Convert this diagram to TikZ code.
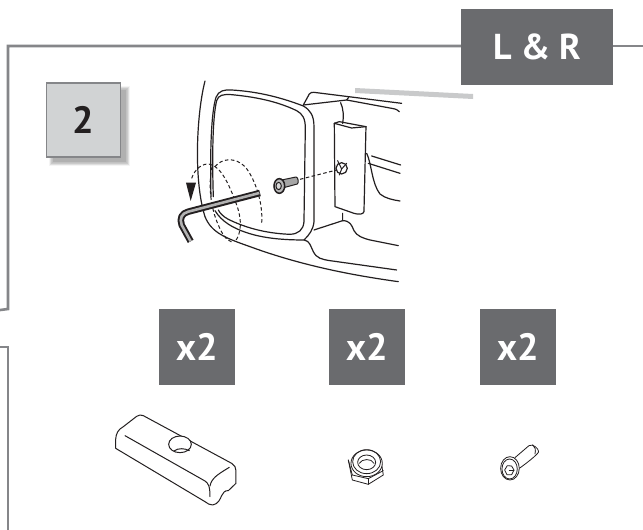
\documentclass[tikz,border=0pt]{standalone}
\usepackage{fontspec}
\setmainfont{PT Sans}
\definecolor{framegray}{HTML}{858689}
\definecolor{tagdark}{HTML}{6A6B6E}
\definecolor{stepfill}{HTML}{D1D3D4}
\definecolor{barlight}{HTML}{C9CACB}
\definecolor{inkdark}{HTML}{231F20}
\tikzset{
 framebar/.style={draw=framegray,line width=2.6pt,line join=miter},
 tagbox/.style={fill=tagdark,text=white,font=\bfseries\fontsize{38}{40}\selectfont,inner sep=0pt,anchor=center,minimum width=76pt,minimum height=76pt},
 ink/.style={draw=inkdark,line width=1.2pt,line cap=round,line join=round},
 thin ink/.style={draw=inkdark,line width=1pt,line cap=round,line join=round},
 fine ink/.style={draw=inkdark,line width=.8pt,line cap=round,line join=round},
 dash ink/.style={draw=inkdark,line width=1pt,dash pattern=on 3.5pt off 2.5pt},
 zoomA/.style={shift={(150,70)},x=0.3333pt,y=-0.3333pt},
 zoomB/.style={shift={(100,400)},x=0.3333pt,y=-0.3333pt},
}
\begin{document}
\begin{tikzpicture}[x=1pt,y=-1pt]
\useasboundingbox (0,0) rectangle (643,530);
\fill[white] (0,0) rectangle (643,530);
% frames
\draw[framebar] (0,310) -- (8,309) -- (8,46) -- (462,46);
\draw[framebar] (610,46) -- (643,46);
\draw[framebar] (0,347) -- (8,347) -- (8,530);
% L&R tag
\node[tagbox,minimum width=152pt,font=\bfseries\fontsize{36}{38}\selectfont] (lr) at (537,47) {L \& R};
% step box with soft shadow
\foreach \d in {0,1,...,7}{
 \fill[black,opacity=.045] ({46+3+\d*.6},{83+3+\d*.6}) rectangle ({121+9-\d*.6},{157+9-\d*.6});
}
\node[fill=stepfill,draw=framegray,line width=1.4pt,minimum width=74pt,minimum height=74pt,inner sep=0pt,text=inkdark,font=\bfseries\fontsize{38}{40}\selectfont] (stepno) at (83.5,120) {2};
% gray bar
\fill[barlight] (355,88) -- (473,94) -- (473,99) -- (355,93) -- cycle;
% count tags
\node[tagbox] (qa) at (197,347) {x2};
\node[tagbox] (qb) at (367,347) {x2};
\node[tagbox] (qc) at (518,347) {x2};
% mirror assembly
\begin{scope}[zoomA]
 \draw[ink] (165,33) .. controls (140,130) and (130,330) .. (165,440)
   .. controls (185,490) and (230,505) .. (300,530) .. controls (450,585) and (600,615) .. (745,635);
 \draw[ink] (183,380) .. controls (180,250) and (183,130) .. (198,82)
   .. controls (205,62) and (225,58) .. (245,60) .. controls (330,65) and (400,85) .. (460,108)
   .. controls (480,120) and (492,135) .. (492,170) -- (492,455)
   .. controls (490,478) and (478,495) .. (462,510);
 \draw[ink] (190,380) .. controls (186,260) and (188,140) .. (200,92)
   .. controls (205,75) and (220,72) .. (245,74) .. controls (330,82) and (390,98) .. (440,122)
   .. controls (458,132) and (466,145) .. (466,175) -- (462,455)
   .. controls (460,480) and (445,492) .. (420,493) .. controls (340,490) and (280,470) .. (235,448)
   .. controls (220,440) and (210,430) .. (205,420);
 \draw[ink] (195,422) .. controls (215,455) and (250,475) .. (290,488)
   .. controls (340,505) and (400,510) .. (462,510) .. controls (480,512) and (482,530) .. (490,545)
   .. controls (500,565) and (515,568) .. (540,572) -- (740,600);
 \draw[ink] (460,105) -- (478,72) .. controls (482,67) and (486,67) .. (492,67) -- (755,100);
 \draw[ink] (460,105) -- (590,90) -- (725,115) .. controls (738,117) and (744,120) .. (748,125);
 \draw[ink] (596,82) -- (590,90);
 \draw[ink] (572,98) .. controls (580,115) and (582,140) .. (578,160);
 \draw[ink] (553,160) -- (555,410) -- (612,430) .. controls (625,434) and (640,434) .. (642,425) -- (648,170);
 \draw[ink] (553,160) -- (568,155) -- (648,170);
 \draw[ink] (553,160) -- (605,174) -- (648,170);
 \draw[ink] (575,295) circle[radius=17];
 \draw[thin ink] (575,297) -- (563,272) (575,297) -- (590,280) (575,297) -- (568,315);
 \draw[ink] (650,250) .. controls (665,280) and (665,340) .. (690,372) .. controls (705,385) and (730,390) .. (750,393);
 \draw[ink] (665,258) -- (752,285);
 \draw[ink] (655,280) -- (750,310);
 \draw[ink] (492,480) -- (578,452) -- (578,430);
 \draw[ink] (578,452) .. controls (600,452) and (605,465) .. (612,482) .. controls (620,498) and (640,505) .. (660,510) -- (745,527);
 % dashed sweep
 \draw[dash ink] (125,325) .. controls (135,295) and (160,278) .. (180,283)
   .. controls (215,290) and (240,350) .. (262,410) .. controls (275,450) and (275,490) .. (255,515);
 \draw[dash ink] (195,290) .. controls (215,265) and (255,260) .. (285,290)
   .. controls (315,325) and (340,400) .. (335,460);
 \draw[dash ink] (186,290) .. controls (175,340) and (180,410) .. (205,465) .. controls (215,490) and (228,510) .. (245,516);
 % screw and dashed axis
 \draw[dash ink] (450,328) -- (560,300);
 \filldraw[thin ink,fill=gray!70] (395,330) -- (438,321) .. controls (445,322) and (447,338) .. (442,342) -- (405,352) -- cycle;
 \filldraw[ink,fill=gray!55,line width=1.5pt] (388,348) ellipse[x radius=16,y radius=22];
 \filldraw[thin ink,fill=gray!30] (386,348) ellipse[x radius=8,y radius=11];
 % arrow head
 \fill[inkdark] (108,338) -- (138,338) -- (122,393) -- cycle;
 % hex key
 \draw[draw=inkdark,line width=6.5pt,line cap=butt,line join=round] (330,369) -- (115,425) .. controls (95,430) and (88,445) .. (95,465) -- (122,514);
 \draw[draw=gray!60,line width=2.6pt] (328,369) -- (115,425) .. controls (95,430) and (88,445) .. (95,465) -- (122,514);
\end{scope}
% small parts
\begin{scope}[zoomB]
 % clamp block
 \draw[thin ink] (47,145) -- (47,118) .. controls (48,100) and (55,88) .. (70,80) -- (110,49)
   .. controls (116,44) and (124,44) .. (130,47) -- (395,190) .. controls (404,195) and (408,203) .. (408,212) -- (408,250)
   -- (385,272) .. controls (375,270) and (368,280) .. (365,287) .. controls (360,298) and (355,312) .. (338,315)
   .. controls (330,316) and (322,310) .. (315,305) -- (47,145) -- cycle;
 \draw[thin ink] (75,107) -- (315,243) .. controls (325,250) and (330,258) .. (330,290);
 \draw[thin ink] (330,258) .. controls (335,235) and (350,225) .. (388,202);
 \filldraw[thin ink,fill=white] (240,133) ellipse[x radius=34,y radius=25];
 \draw[thin ink] (222,153) .. controls (235,143) and (255,145) .. (268,152);
 % nut
 \draw[fine ink] (745,180) -- (757,240) -- (805,253) -- (850,225) -- (843,180);
 \draw[fine ink] (757,225) -- (805,236) -- (850,212);
 \draw[fine ink] (805,236) -- (805,253);
 \draw[fine ink] (745,180) -- (757,225);
 \filldraw[fine ink,fill=white] (800,190) ellipse[x radius=47,y radius=40];
 \draw[fine ink] (800,185) ellipse[x radius=42,y radius=36];
 \draw[fine ink] (800,187) ellipse[x radius=27,y radius=22];
 \draw[fine ink] (778,190) .. controls (785,176) and (815,174) .. (822,190);
 % button-head screw
 \draw[fine ink] (1245,173) -- (1287,137) .. controls (1298,130) and (1316,145) .. (1316,155) .. controls (1316,162) and (1270,197) .. (1258,205);
 \draw[fine ink] (1298,134) .. controls (1306,140) and (1308,150) .. (1305,162);
 \filldraw[fine ink,fill=white] (1230,205) ellipse[x radius=28,y radius=35];
 \draw[fine ink] (1229,207) ellipse[x radius=23,y radius=30];
 \draw[fine ink] (1214,210) -- (1222,197) -- (1235,198) -- (1242,210) -- (1235,224) -- (1221,224) -- cycle;
 \draw[fine ink] (1228,210) -- (1242,210);
\end{scope}
\end{tikzpicture}
\end{document}
